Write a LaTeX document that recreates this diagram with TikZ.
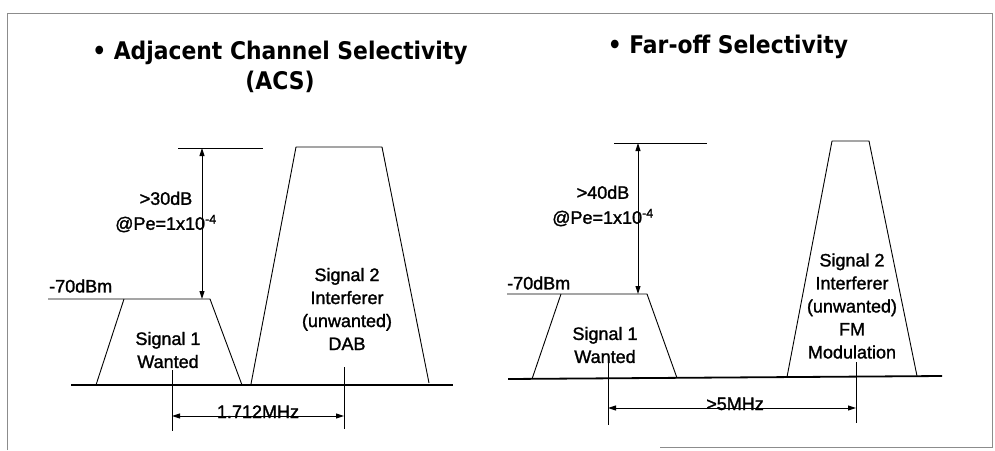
\documentclass[tikz,border=0pt]{standalone}
\usepackage{fontspec}
\setmainfont{Liberation Sans}[FakeBold=1.5]
\newfontfamily\ttlfont{DejaVu Sans Condensed}
\usetikzlibrary{arrows.meta}

\begin{document}
\begin{tikzpicture}[
  x=1pt, y=-1pt,
  font=\fontsize{18}{23}\selectfont,
  ttl/.style={font=\ttlfont\bfseries\fontsize{24.3}{30}\selectfont, align=center},
  lbl/.style={align=center, inner sep=0pt},
  band/.style={draw=black, line width=0.9pt, line join=round},
  axis/.style={draw=black, line width=1.8pt},
  ref/.style={draw=black, line width=0.8pt},
  dim/.style={{Triangle[length=8pt,width=5pt]}-{Triangle[length=8pt,width=5pt]},
              draw=black, line width=1pt},
  frame/.style={draw=black!45, line width=0.8pt}
]
\useasboundingbox (0,0) rectangle (995,450);

% page frame
\draw[frame] (7,450) -- (7,13) -- (992,13) -- (992,447) -- (660,447);

% ================================================= 1. adjacent channel (ACS)
\begin{scope}[local bounding box=p1]
  \node[ttl] (t1) at (280,67) {\textbullet\ Adjacent Channel Selectivity\\(ACS)};
  \draw[axis] (71,385) -- (453,385);
  % wanted signal, its top line runs on to the -70dBm level
  \draw[band] (48,299) -- (210,299) -- (242,385);
  \draw[band] (124,299) -- (96,385);
  % interferer
  \draw[band] (251,384) -- (296,147) -- (382,147) -- (429,383);
  \draw[ref] (178,148) -- (263,148);
  \coordinate (r1) at (202,148);
  \coordinate (p1) at (202,299);
  \draw[dim] (r1) -- (p1);
  \coordinate (m1a) at (172,370);
  \coordinate (m1b) at (172,431);
  \coordinate (m2a) at (344,367);
  \coordinate (m2b) at (344,429);
  \draw[ref] (m1a) -- (m1b);
  \draw[ref] (m2a) -- (m2b);
  \coordinate (a1) at (172,416);
  \coordinate (a2) at (344,416);
  \draw[dim] (a1) -- (a2);
  \node[lbl] (db1) at (166,212) {>30dB\\[2pt]@Pe=1x10\textsuperscript{-4}};
  \node[lbl] (s1a) at (168,350) {Signal 1\\Wanted};
  \node[lbl] (s2a) at (347,309) {Signal 2\\Interferer\\(unwanted)\\DAB};
  \node[lbl, anchor=west] (lv1) at (49,286) {-70dBm};
  \node[lbl, anchor=base] (f1) at (258,418) {1.712MHz};
\end{scope}

% ================================================= 2. far-off selectivity
\begin{scope}[local bounding box=p2]
  \node[ttl] (t2) at (728,47) {\textbullet\ Far-off Selectivity};
  \draw[axis] (508,379) -- (942,376);
  \draw[band] (507,294) -- (647,294) -- (677,378);
  \draw[band] (561,294) -- (532,379);
  \draw[band] (787,377) -- (832,141) -- (869,141) -- (917,376);
  \draw[ref] (614,143) -- (707,143);
  \coordinate (r2) at (638,143);
  \coordinate (p2) at (638,294);
  \draw[dim] (r2) -- (p2);
  \coordinate (n1a) at (608,363);
  \coordinate (n1b) at (608,425);
  \coordinate (n2a) at (856,362);
  \coordinate (n2b) at (856,423);
  \draw[ref] (n1a) -- (n1b);
  \draw[ref] (n2a) -- (n2b);
  \coordinate (b1) at (608,408);
  \coordinate (b2) at (856,408);
  \draw[dim] (b1) -- (b2);
  \node[lbl] (db2) at (603,206) {>40dB\\[2pt]@Pe=1x10\textsuperscript{-4}};
  \node[lbl] (s1b) at (605,345) {Signal 1\\Wanted};
  \node[lbl] (s2b) at (852,306) {Signal 2\\Interferer\\(unwanted)\\FM\\Modulation};
  \node[lbl, anchor=west] (lv2) at (507,283) {-70dBm};
  \node[lbl, anchor=base] (f2) at (735,410) {>5MHz};
\end{scope}

\end{tikzpicture}
\end{document}
